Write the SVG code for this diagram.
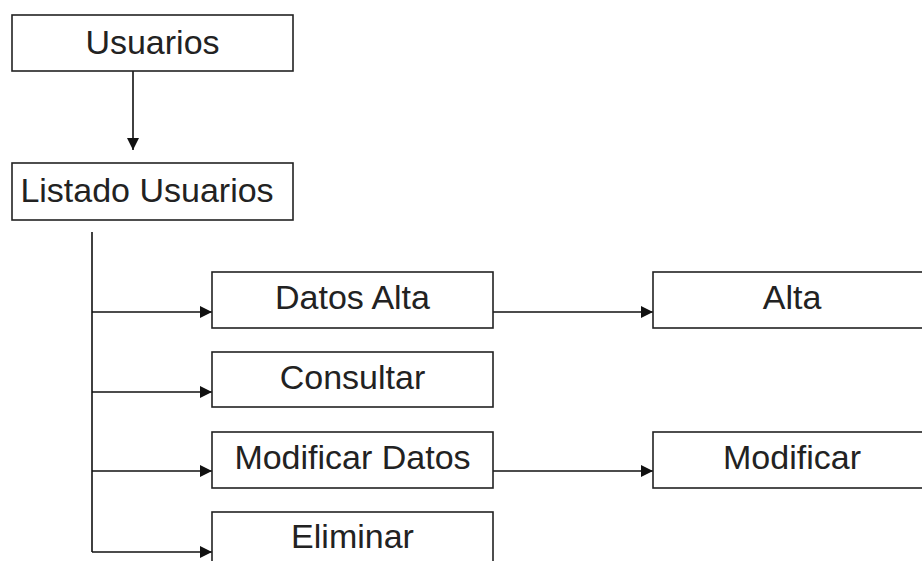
<svg xmlns="http://www.w3.org/2000/svg" width="922" height="561" viewBox="0 0 922 561">
<style>
.box{fill:#fff;stroke:#222;stroke-width:1.6}
.lbl{font-family:"Liberation Sans",Arial,sans-serif;font-size:34px;fill:#222;text-anchor:middle}
.con{fill:none;stroke:#111;stroke-width:1.6}
</style>
<defs>
<marker id="arr" viewBox="0 0 10 10" refX="10" refY="5" markerWidth="15" markerHeight="12" markerUnits="userSpaceOnUse" orient="auto">
<path d="M0,0 L10,5 L0,10 z" fill="#111"/>
</marker>
</defs>
<rect width="922" height="561" fill="#fff"/>
<g id="connectors">
<line class="con" x1="133" y1="71" x2="133" y2="150" marker-end="url(#arr)"/>
<line class="con" x1="92" y1="232" x2="92" y2="552"/>
<line class="con" x1="92" y1="312" x2="212" y2="312" marker-end="url(#arr)"/>
<line class="con" x1="92" y1="392" x2="212" y2="392" marker-end="url(#arr)"/>
<line class="con" x1="92" y1="471" x2="212" y2="471" marker-end="url(#arr)"/>
<line class="con" x1="92" y1="552" x2="212" y2="552" marker-end="url(#arr)"/>
<line class="con" x1="493" y1="312" x2="653" y2="312" marker-end="url(#arr)"/>
<line class="con" x1="493" y1="471" x2="653" y2="471" marker-end="url(#arr)"/>
</g>
<g id="usuarios"><rect class="box" x="12" y="15" width="281" height="56"/><text class="lbl" x="152.5" y="54">Usuarios</text></g>
<g id="listado"><rect class="box" x="12" y="163" width="281" height="57"/><text class="lbl" x="147" y="202">Listado Usuarios</text></g>
<g id="datosalta"><rect class="box" x="212" y="272" width="281" height="56"/><text class="lbl" x="352.5" y="309">Datos Alta</text></g>
<g id="consultar"><rect class="box" x="212" y="352" width="281" height="55"/><text class="lbl" x="352.5" y="389">Consultar</text></g>
<g id="modificardatos"><rect class="box" x="212" y="432" width="281" height="56"/><text class="lbl" x="352.5" y="469">Modificar Datos</text></g>
<g id="eliminar"><rect class="box" x="212" y="512" width="281" height="56"/><text class="lbl" x="352.5" y="548">Eliminar</text></g>
<g id="alta"><rect class="box" x="653" y="272" width="281" height="56"/><text class="lbl" x="792" y="309">Alta</text></g>
<g id="modificar"><rect class="box" x="653" y="432" width="281" height="56"/><text class="lbl" x="792" y="469">Modificar</text></g>
</svg>
